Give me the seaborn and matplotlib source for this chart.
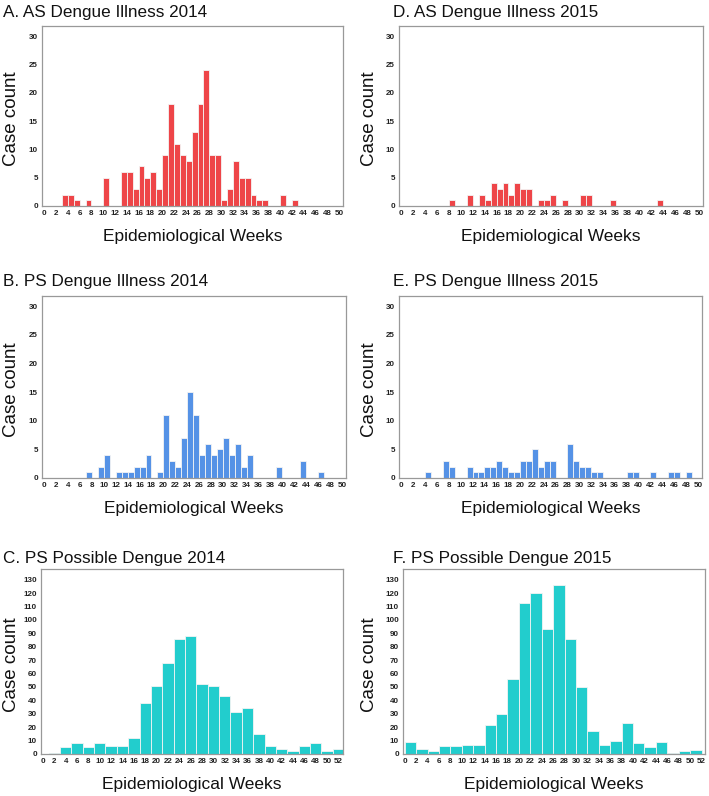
import numpy as np
import pandas as pd
import matplotlib
matplotlib.use("Agg")
import matplotlib.pyplot as plt
import seaborn as sns

sns.set_theme(style="white")
plt.rcParams['font.family'] = ['Liberation Sans', 'DejaVu Sans']

# ---- data (left edge of week bin : case count) ----
a_weeks = [3, 4, 5, 7, 10, 13, 14, 15, 16, 17, 18, 19, 20, 21, 22, 23, 24, 25, 26, 27, 28, 29, 30, 31, 32, 33, 34, 35, 36, 37, 40, 42]
a_counts = [2, 2, 1, 1, 5, 6, 6, 3, 7, 5, 6, 3, 9, 18, 11, 9, 8, 13, 18, 24, 9, 9, 1, 3, 8, 5, 5, 2, 1, 1, 2, 1]

d_weeks = [8, 11, 13, 14, 15, 16, 17, 18, 19, 20, 21, 23, 24, 25, 27, 30, 31, 35, 43]
d_counts = [1, 2, 2, 1, 4, 3, 4, 2, 4, 3, 3, 1, 1, 2, 1, 2, 2, 1, 1]

b_weeks = [7, 9, 10, 12, 13, 14, 15, 16, 17, 19, 20, 21, 22, 23, 24, 25, 26, 27, 28, 29, 30, 31, 32, 33, 34, 39, 43, 46]
b_counts = [1, 2, 4, 1, 1, 1, 2, 2, 4, 1, 11, 3, 2, 7, 15, 11, 4, 6, 4, 5, 7, 4, 6, 2, 4, 2, 3, 1]

e_weeks = [4, 7, 8, 11, 12, 13, 14, 15, 16, 17, 18, 19, 20, 21, 22, 23, 24, 25, 28, 29, 30, 31, 32, 33, 38, 39, 42, 45, 46, 48]
e_counts = [1, 3, 2, 2, 1, 1, 2, 2, 3, 2, 1, 1, 3, 3, 5, 2, 3, 3, 6, 3, 2, 2, 1, 1, 1, 1, 1, 1, 1, 1]

c_weeks = [1, 3, 5, 7, 9, 11, 13, 15, 17, 19, 21, 23, 25, 27, 29, 31, 33, 35, 37, 39, 41, 43, 45, 47, 49, 51]
c_counts = [1, 5, 8, 5, 8, 6, 6, 12, 38, 51, 68, 86, 88, 52, 51, 43, 31, 34, 15, 6, 4, 2, 6, 8, 2, 4]

f_weeks = [0, 2, 4, 6, 8, 10, 12, 14, 16, 18, 20, 22, 24, 26, 28, 30, 32, 34, 36, 38, 40, 42, 44, 46, 48, 50]
f_counts = [9, 4, 2, 6, 6, 7, 7, 22, 30, 56, 113, 120, 93, 126, 86, 50, 17, 7, 10, 23, 8, 5, 9, 1, 2, 3]

titles = ["A. AS Dengue Illness 2014", "D. AS Dengue Illness 2015",
          "B. PS Dengue Illness 2014", "E. PS Dengue Illness 2015",
          "C. PS Possible Dengue 2014", "F. PS Possible Dengue 2015"]

RED = "#EE4548"
BLUE = "#5592E6"
CYAN = "#22CDCD"

W, H = 709, 796
fig = plt.figure(figsize=(W / 100, H / 100), dpi=100)


def make_ax(l, r, t, b):
    return fig.add_axes([l / W, 1 - b / H, (r - l) / W, (b - t) / H])


panels = [
    (a_weeks, a_counts, RED, list(range(0, 52, 1)), (-0.4, 50.7), np.arange(0, 51, 2), 31.8, np.arange(0, 31, 5), (42, 343, 26, 206), titles[0]),
    (d_weeks, d_counts, RED, list(range(0, 52, 1)), (-0.4, 50.7), np.arange(0, 51, 2), 31.8, np.arange(0, 31, 5), (399, 703, 26, 206), titles[1]),
    (b_weeks, b_counts, BLUE, list(range(0, 52, 1)), (-0.4, 50.7), np.arange(0, 51, 2), 31.8, np.arange(0, 31, 5), (42, 346, 296, 478), titles[2]),
    (e_weeks, e_counts, BLUE, list(range(0, 52, 1)), (-0.4, 50.7), np.arange(0, 51, 2), 31.8, np.arange(0, 31, 5), (399, 702, 296, 478), titles[3]),
    (c_weeks, c_counts, CYAN, list(range(1, 55, 2)), (-0.35, 52.8), np.arange(0, 53, 2), 138, np.arange(0, 131, 10), (41, 343, 569, 754), titles[4]),
    (f_weeks, f_counts, CYAN, list(range(0, 54, 2)), (-0.3, 52.6), np.arange(0, 53, 2), 138, np.arange(0, 131, 10), (403, 705, 569, 754), titles[5]),
]

for i, (wk, ct, col, bins, xlim, xt, ytop, yt, box, title) in enumerate(panels):
    l, r, t, b = box
    ax = make_ax(l, r, t, b)
    df = pd.DataFrame({"week": wk, "count": ct})
    sns.histplot(data=df, x="week", weights="count", bins=bins, color=col, alpha=1.0,
                 edgecolor="#f4f4f4", linewidth=0.6, ax=ax)
    ax.set_xlim(*xlim)
    ax.set_ylim(0, ytop)
    ax.set_xticks(xt)
    ax.set_xticklabels([str(v) for v in xt], fontsize=5.8, fontweight="bold", color="#222222")
    ax.set_yticks(yt)
    ax.set_yticklabels([str(v) for v in yt], fontsize=5.8, fontweight="bold", color="#222222")
    ax.tick_params(axis="both", length=0, pad=3)
    ax.set_xlabel("")
    ax.set_ylabel("")
    for s in ax.spines.values():
        s.set_color("#999999")
        s.set_linewidth(0.9)
    ax.grid(False)
    col_left = (i % 2 == 0)
    tx = 3 if col_left else 393
    ty = 12 if i < 2 else (282 if i < 4 else 558)
    fig.text(tx / W, 1 - ty / H, title, fontsize=12.3, ha="left", va="center", color="#111111")
    fig.text((12 if col_left else 369) / W, 1 - ((t + b) / 2 + 3) / H, "Case count",
             rotation=90, fontsize=13.5, ha="center", va="center", color="#111111")
    fig.text(((l + r) / 2) / W, 1 - (b + 31) / H, "Epidemiological Weeks",
             fontsize=12.5, ha="center", va="center", color="#111111")

fig.savefig("out.png", dpi=100)
